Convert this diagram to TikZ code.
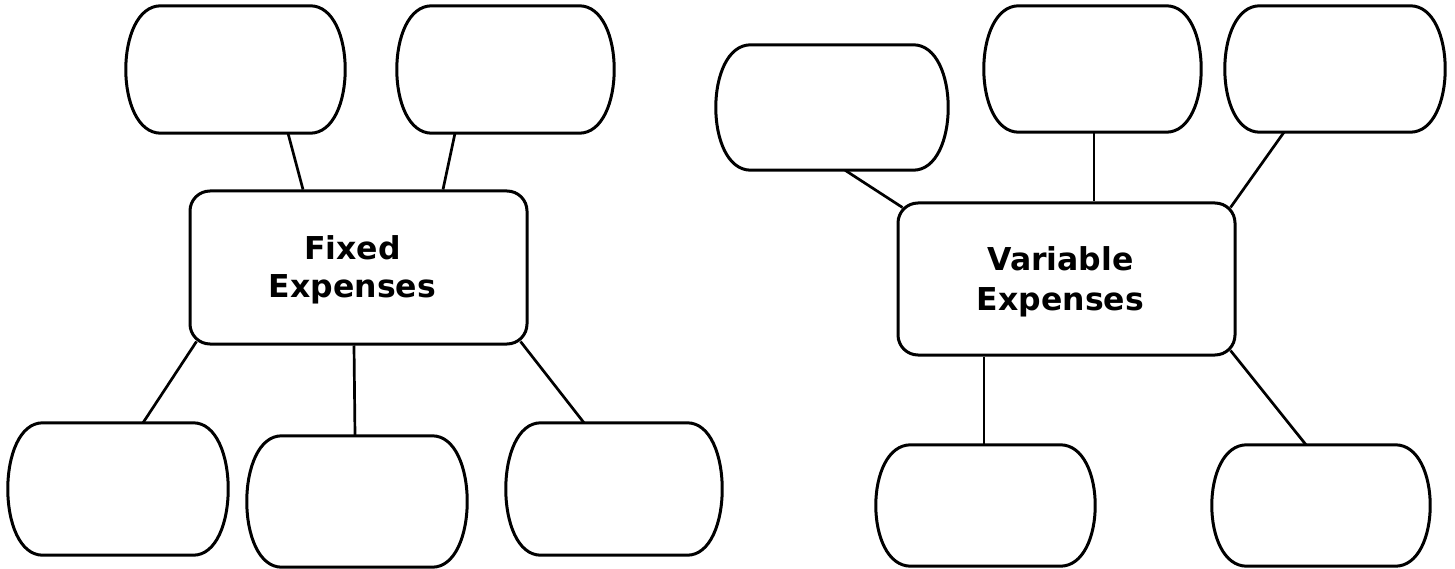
\documentclass[tikz,border=0pt]{standalone}
\usepackage{fontspec}
\usetikzlibrary{calc}
\newfontfamily\lblfont{DejaVu Sans}
\tikzset{
  line/.style={line width=3pt, line join=round, line cap=round},
  holder/.style={draw=none, inner sep=0pt, rectangle},
  centre/.style={draw, line width=3pt, rounded corners=20pt, inner sep=0pt},
  lbl/.style={align=center, font=\lblfont\bfseries\fontsize{31.5}{37.5}\selectfont},
  conn/.style={line width=2.7pt}
}
\newcommand\bubbleshape[1]{%
  \draw[line] let \p1=(#1.north west), \p2=(#1.south east) in
    (\x1+35pt,\y1) -- (\x2-35pt,\y1)
    .. controls (\x2+11.7pt,\y1) and (\x2+11.7pt,\y2) .. (\x2-35pt,\y2)
    -- (\x1+35pt,\y2)
    .. controls (\x1-11.7pt,\y2) and (\x1-11.7pt,\y1) .. (\x1+35pt,\y1) -- cycle;}
\begin{document}
\begin{tikzpicture}[x=1pt,y=-1pt]
\useasboundingbox (0,0) rectangle (1455,569);
% Fixed side
\node[holder, minimum width=219pt, minimum height=127pt] (ft1) at (235.5,69.5) {};
\node[holder, minimum width=217pt, minimum height=127pt] (ft2) at (505.5,69.5) {};
\node[centre, minimum width=337pt, minimum height=153pt] (fc) at (358.5,267.5) {};
\node[lbl] (ftext) at (352.5,270) {Fixed\\Expenses};
\node[holder, minimum width=220pt, minimum height=132pt] (fb1) at (118,489) {};
\node[holder, minimum width=220pt, minimum height=131pt] (fb2) at (357,501.5) {};
\node[holder, minimum width=216pt, minimum height=132pt] (fb3) at (614,489) {};
% Variable side
\node[holder, minimum width=232pt, minimum height=125pt] (vt1) at (832,107.5) {};
\node[holder, minimum width=217pt, minimum height=126pt] (vt2) at (1092.5,69) {};
\node[holder, minimum width=220pt, minimum height=126pt] (vt3) at (1335,69) {};
\node[centre, minimum width=337pt, minimum height=152pt] (vc) at (1066.5,279) {};
\node[lbl, font=\lblfont\bfseries\fontsize{31.5}{40}\selectfont] (vtext) at (1060.5,282) {Variable\\Expenses};
\node[holder, minimum width=219pt, minimum height=121pt] (vb1) at (985.5,505.5) {};
\node[holder, minimum width=218pt, minimum height=121pt] (vb2) at (1321,505.5) {};
\foreach \bb in {ft1,ft2,fb1,fb2,fb3,vt1,vt2,vt3,vb1,vb2} {\bubbleshape{\bb}}
% connectors
\draw[conn] ([xshift=52.5pt]ft1.south) -- ([xshift=-55.5pt]fc.north);
\draw[conn] ([xshift=-50.5pt]ft2.south) -- ([xshift=84.5pt]fc.north);
\draw[conn] ([xshift=8pt,yshift=4pt]fc.south west) -- ([xshift=25pt]fb1.north);
\draw[conn] ([xshift=-4.5pt]fc.south) -- ([xshift=-2pt]fb2.north);
\draw[conn] ([xshift=-8pt,yshift=4pt]fc.south east) -- ([xshift=-30pt]fb3.north);
\draw[conn] ([xshift=13pt]vt1.south) -- ([xshift=6pt,yshift=-6pt]vc.north west);
\draw[conn] ([xshift=1.5pt]vt2.south) -- ([xshift=27.5pt]vc.north);
\draw[conn] ([xshift=-51pt]vt3.south) -- ([xshift=-6pt,yshift=-6pt]vc.north east);
\draw[conn] ([xshift=-82.5pt]vc.south) -- ([xshift=-1.5pt]vb1.north);
\draw[conn] ([xshift=-6pt,yshift=6pt]vc.south east) -- ([xshift=-15pt]vb2.north);
\end{tikzpicture}
\end{document}
